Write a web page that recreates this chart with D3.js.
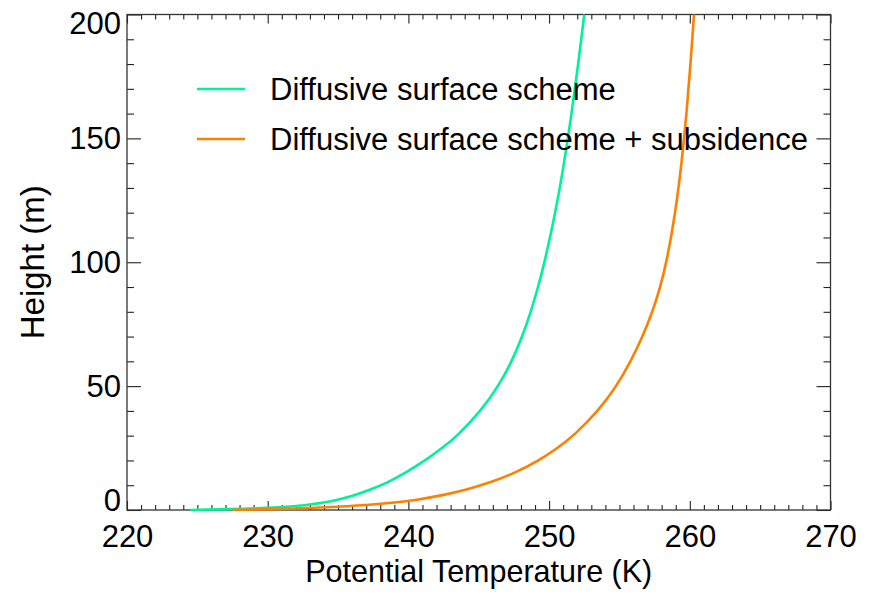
<!DOCTYPE html>
<html>
<head>
<meta charset="utf-8">
<script src="https://d3js.org/d3.v7.min.js"></script>
<style>
  body { margin: 0; background: #fff; }
  text { font-family: "Liberation Sans", Arial, Helvetica, sans-serif; }
</style>
</head>
<body>
<script>
// Data
// heights (m) at which the temperatures were read
var heights = [0, 0.5, 1, 2, 3, 4, 6, 8, 11, 15, 20, 25, 30, 40, 50, 60, 70, 80, 90, 100, 120, 140, 160, 180, 200];
// potential temperature (K), diffusive surface scheme
var tempDiff = [224.5, 228.6, 230.8, 232.9, 234.0, 234.9, 236.2, 237.2, 238.5, 239.8, 241.2, 242.4, 243.5, 245.15, 246.4, 247.35, 248.1, 248.7, 249.22, 249.68, 250.45, 251.07, 251.6, 252.07, 252.5];
// potential temperature (K), diffusive surface scheme + subsidence
var tempSub = [227.5, 231.5, 234.0, 237.2, 239.1, 240.5, 242.5, 244.0, 245.8, 247.6, 249.3, 250.6, 251.75, 253.5, 254.8, 255.8, 256.65, 257.35, 257.9, 258.35, 258.98, 259.42, 259.77, 260.05, 260.3];

var seriesNames = ["Diffusive surface scheme", "Diffusive surface scheme + subsidence"];
var seriesColors = ["#00f296", "#ff7f00"];

var xTicks = [220, 230, 240, 250, 260, 270];
var yTicks = [0, 50, 100, 150, 200];

// chart setup
var svgWidth = 877;
var svgHeight = 594;
var margin = { top: 14.5, right: 46.5, bottom: 84, left: 127 };
var width = svgWidth - margin.left - margin.right;
var height = svgHeight - margin.top - margin.bottom;

var svg = d3.select("body")
    .append("svg")
    .attr("width", svgWidth)
    .attr("height", svgHeight);

svg.append("rect")
    .attr("width", svgWidth)
    .attr("height", svgHeight)
    .attr("fill", "#fff");

var chartGroup = svg.append("g")
    .attr("transform", `translate(${margin.left}, ${margin.top})`);

// scales
var xScale = d3.scaleLinear().domain([220, 270]).range([0, width]);
var yScale = d3.scaleLinear().domain([0, 200]).range([height, 0]);

var xMinor = d3.range(220, 271, 1).filter(d => d % 10 !== 0);
var yMinor = d3.range(0, 201, 10).filter(d => d % 50 !== 0);

function styleAxis(g) {
    g.select(".domain").remove();
    g.selectAll("line").attr("stroke", "#222").attr("stroke-width", 1.1);
    g.selectAll("text").attr("fill", "#000").style("font-size", "31px");
}

// bottom axis
chartGroup.append("g")
    .attr("transform", `translate(0,${height})`)
    .call(d3.axisBottom(xScale).tickValues(xTicks).tickSize(-9).tickPadding(15).tickFormat(d3.format("d")))
    .call(styleAxis);
chartGroup.append("g")
    .attr("transform", `translate(0,${height})`)
    .call(d3.axisBottom(xScale).tickValues(xMinor).tickSize(-5).tickFormat(""))
    .call(styleAxis);

// top axis
chartGroup.append("g")
    .call(d3.axisTop(xScale).tickValues(xTicks).tickSize(-9).tickFormat(""))
    .call(styleAxis);
chartGroup.append("g")
    .call(d3.axisTop(xScale).tickValues(xMinor).tickSize(-5).tickFormat(""))
    .call(styleAxis);

// left axis
var yAxisG = chartGroup.append("g")
    .call(d3.axisLeft(yScale).tickValues(yTicks).tickSize(-14).tickPadding(6).tickFormat(d3.format("d")))
    .call(styleAxis);
// keep end labels inside the frame like the original
yAxisG.selectAll(".tick text")
    .attr("dy", d => d === 0 ? "0.02em" : d === 200 ? "0.6em" : "0.32em");
chartGroup.append("g")
    .call(d3.axisLeft(yScale).tickValues(yMinor).tickSize(-7).tickFormat(""))
    .call(styleAxis);

// right axis
chartGroup.append("g")
    .attr("transform", `translate(${width},0)`)
    .call(d3.axisRight(yScale).tickValues(yTicks).tickSize(-14).tickFormat(""))
    .call(styleAxis);
chartGroup.append("g")
    .attr("transform", `translate(${width},0)`)
    .call(d3.axisRight(yScale).tickValues(yMinor).tickSize(-7).tickFormat(""))
    .call(styleAxis);

// frame
chartGroup.append("rect")
    .attr("width", width)
    .attr("height", height)
    .attr("fill", "none")
    .attr("stroke", "#333")
    .attr("stroke-width", 1.3);

// lines
var line = d3.line()
    .x(d => xScale(d[0]))
    .y(d => yScale(d[1]))
    .curve(d3.curveBasis);

var series = [
    d3.zip(tempDiff, heights),
    d3.zip(tempSub, heights)
];

chartGroup.selectAll(".series")
    .data(series)
    .enter()
    .append("path")
    .attr("class", "series")
    .attr("d", line)
    .attr("fill", "none")
    .attr("stroke", (d, i) => seriesColors[i])
    .attr("stroke-width", 2.6);

// legend
var legend = svg.append("g")
    .attr("transform", "translate(197, 89)");

legend.selectAll("line")
    .data(seriesNames)
    .enter()
    .append("line")
    .attr("x1", 0)
    .attr("x2", 48)
    .attr("y1", (d, i) => i * 50)
    .attr("y2", (d, i) => i * 50)
    .attr("stroke", (d, i) => seriesColors[i])
    .attr("stroke-width", 2.6);

legend.selectAll("text")
    .data(seriesNames)
    .enter()
    .append("text")
    .attr("x", 73)
    .attr("y", (d, i) => i * 50 + 11)
    .style("font-size", "31px")
    .text(d => d);

// axis titles
svg.append("text")
    .attr("x", margin.left + width / 2)
    .attr("y", 582)
    .attr("text-anchor", "middle")
    .style("font-size", "30.5px")
    .text("Potential Temperature (K)");

svg.append("text")
    .attr("transform", `translate(44, ${margin.top + height / 2}) rotate(-90)`)
    .attr("text-anchor", "middle")
    .style("font-size", "33px")
    .text("Height (m)");
</script>
</body>
</html>
